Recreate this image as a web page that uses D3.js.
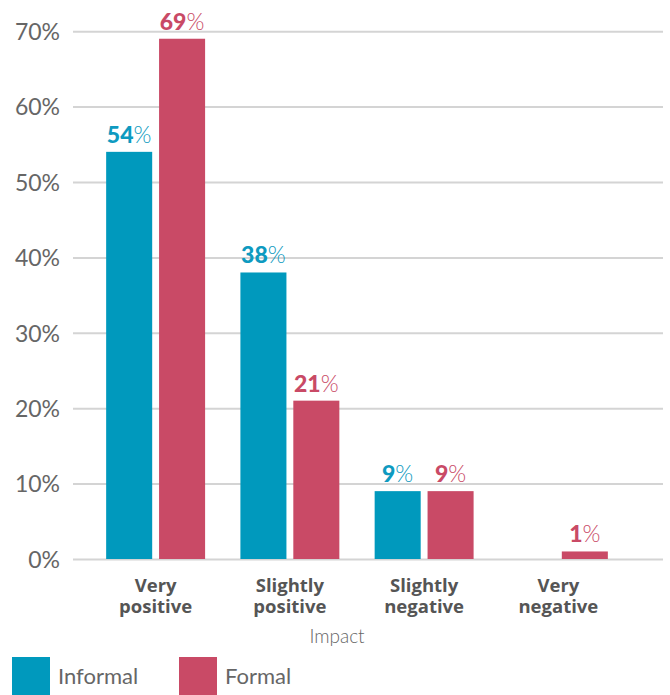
<!DOCTYPE html>
<html>
<head>
<meta charset="utf-8">
<script src="https://cdn.jsdelivr.net/npm/d3@7"></script>
<style>
  html, body { margin: 0; padding: 0; background: #fff; }
  svg { display: block; font-family: Lato, "Open Sans", sans-serif; }
</style>
</head>
<body>
<svg id="chart" width="670" height="695"></svg>
<script>
// Impact of informal vs formal, share of respondents (%)
const categories = [["Very", "positive"], ["Slightly", "positive"], ["Slightly", "negative"], ["Very", "negative"]];
const seriesNames = ["Informal", "Formal"];
const informal = [54, 38, 9, null];
const formal = [69, 21, 9, 1];
const yTicks = [0, 10, 20, 30, 40, 50, 60, 70];
const colors = ["#0099bd", "#c94a66"];
const labelColors = ["#0e9ac0", "#c94a66"];

const svg = d3.select("#chart");
const yScale = d3.scaleLinear().domain([0, 70]).range([559, 31.2]);
const x0 = d3.scaleBand().domain(d3.range(categories.length)).range([88.5, 625.5])
  .paddingInner(0.263).paddingOuter(0.1315);
const x1 = d3.scaleBand().domain(d3.range(seriesNames.length)).range([0, x0.bandwidth()])
  .paddingInner(0.13);

// gridlines and y tick labels
const yAxis = d3.axisLeft(yScale).tickValues(yTicks).tickFormat(d => d + "%")
  .tickSize(-(663 - 73)).tickPadding(13);
const gy = svg.append("g").attr("transform", "translate(73,0)").call(yAxis);
gy.select(".domain").remove();
gy.selectAll(".tick line").attr("stroke", "#d4d4d4").attr("stroke-width", 2);
gy.selectAll(".tick text").attr("fill", "#666").attr("font-size", 23)
  .attr("font-weight", 400).attr("font-family", "Lato, sans-serif").attr("dy", "0.36em");

const series = [informal, formal];
const groups = svg.append("g");
series.forEach((vals, si) => {
  vals.forEach((v, ci) => {
    if (v == null) return;
    const x = x0(ci) + x1(si);
    const w = x1.bandwidth();
    groups.append("rect")
      .attr("x", x).attr("y", yScale(v))
      .attr("width", w).attr("height", yScale(0) - yScale(v))
      .attr("fill", colors[si]);
    const t = groups.append("text")
      .attr("x", x + w / 2).attr("y", yScale(v) - 9)
      .attr("text-anchor", "middle").attr("fill", labelColors[si])
      .attr("font-size", 23);
    t.append("tspan").attr("font-weight", 900).text(v);
    t.append("tspan").attr("font-weight", 300).text("%");
  });
});

// category labels
const xl = svg.append("g");
categories.forEach((lines, ci) => {
  const cx = x0(ci) + x0.bandwidth() / 2;
  const t = xl.append("text").attr("text-anchor", "middle").attr("fill", "#555")
    .attr("font-family", "'Open Sans', sans-serif")
    .attr("font-size", 18.5).attr("font-weight", 700);
  lines.forEach((ln, i) => {
    t.append("tspan").attr("x", cx).attr("y", 592 + i * 20.5).text(ln);
  });
});

svg.append("text").attr("x", 337).attr("y", 643).attr("text-anchor", "middle")
  .attr("fill", "#666").attr("font-size", 19).attr("font-weight", 300).text("Impact");

// legend
const legendX = [12, 179];
seriesNames.forEach((name, i) => {
  svg.append("rect").attr("x", legendX[i]).attr("y", 657).attr("width", 38).attr("height", 38)
    .attr("fill", colors[i]);
  svg.append("text").attr("x", legendX[i] + 46).attr("y", 684)
    .attr("fill", "#666").attr("font-size", 22).attr("font-weight", 400).text(name);
});
</script>
</body>
</html>
